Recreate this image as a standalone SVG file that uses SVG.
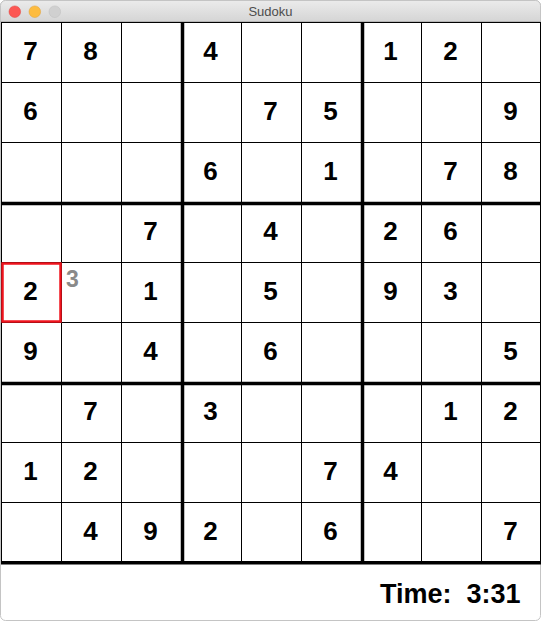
<svg xmlns="http://www.w3.org/2000/svg" width="541" height="623" viewBox="0 0 541 623">
<defs>
<linearGradient id="tb" x1="0" y1="0" x2="0" y2="1">
<stop offset="0" stop-color="#ebebeb"/>
<stop offset="1" stop-color="#d5d5d5"/>
</linearGradient>
<style>
.d{font-family:"Liberation Sans",Arial,sans-serif;font-weight:bold;font-size:26px;fill:#000;text-anchor:middle}
.thin{stroke:#000;stroke-width:1}
.thick{stroke:#000;stroke-width:3.5}
</style>
</defs>
<rect x="0" y="0" width="541" height="623" fill="#fff"/>
<g id="window">
<rect x="0.5" y="0.5" width="540" height="620" rx="5" fill="#fff" stroke="#c4c4c4"/>
<path d="M0.5,21.5 V5.5 a5,5 0 0 1 5,-5 H535.5 a5,5 0 0 1 5,5 V21.5 Z" fill="url(#tb)" stroke="#c4c4c4"/>
<line x1="0" y1="21.5" x2="541" y2="21.5" stroke="#b5b5b5"/>
<circle cx="14.8" cy="11.7" r="5.8" fill="#fc5753" stroke="#df3e3a" stroke-width="0.5"/>
<circle cx="34.8" cy="11.7" r="5.8" fill="#fdbc40" stroke="#de9f34" stroke-width="0.5"/>
<circle cx="54.8" cy="11.7" r="5.8" fill="#d0d0d0" stroke="#bdbdbd" stroke-width="0.5"/>
<text x="270.5" y="15.5" font-family="'Liberation Sans',Arial,sans-serif" font-size="13" fill="#4d4d4d" text-anchor="middle">Sudoku</text>
</g>
<g id="grid">
<line class="thin" x1="1.5" y1="22" x2="1.5" y2="564"/>
<line class="thin" x1="61.5" y1="22" x2="61.5" y2="564"/>
<line class="thin" x1="121.5" y1="22" x2="121.5" y2="564"/>
<line class="thin" x1="241.5" y1="22" x2="241.5" y2="564"/>
<line class="thin" x1="301.5" y1="22" x2="301.5" y2="564"/>
<line class="thin" x1="421.5" y1="22" x2="421.5" y2="564"/>
<line class="thin" x1="481.5" y1="22" x2="481.5" y2="564"/>
<line class="thin" x1="540.5" y1="22" x2="540.5" y2="564"/>
<line class="thin" x1="1" y1="22.5" x2="541" y2="22.5"/>
<line class="thin" x1="1" y1="82.5" x2="541" y2="82.5"/>
<line class="thin" x1="1" y1="142.5" x2="541" y2="142.5"/>
<line class="thin" x1="1" y1="262.5" x2="541" y2="262.5"/>
<line class="thin" x1="1" y1="322.5" x2="541" y2="322.5"/>
<line class="thin" x1="1" y1="442.5" x2="541" y2="442.5"/>
<line class="thin" x1="1" y1="502.5" x2="541" y2="502.5"/>
<line class="thick" x1="182.5" y1="22" x2="182.5" y2="564"/>
<line class="thick" x1="362.5" y1="22" x2="362.5" y2="564"/>
<line class="thick" x1="1" y1="203.5" x2="541" y2="203.5"/>
<line class="thick" x1="1" y1="383.5" x2="541" y2="383.5"/>
<line class="thick" x1="1" y1="562.7" x2="541" y2="562.7"/>
</g>
<g id="selection">
<rect x="2.5" y="263.5" width="58" height="58" fill="none" stroke="#f0141e" stroke-width="2.5"/>
</g>
<g id="r0">
<g id="c00"><text class="d" x="30.5" y="59.8">7</text></g>
<g id="c01"><text class="d" x="90.5" y="59.8">8</text></g>
<g id="c03"><text class="d" x="210.5" y="59.8">4</text></g>
<g id="c06"><text class="d" x="390.5" y="59.8">1</text></g>
<g id="c07"><text class="d" x="450.5" y="59.8">2</text></g>
</g>
<g id="r1">
<g id="c10"><text class="d" x="30.5" y="119.8">6</text></g>
<g id="c14"><text class="d" x="270.5" y="119.8">7</text></g>
<g id="c15"><text class="d" x="330.5" y="119.8">5</text></g>
<g id="c18"><text class="d" x="510.5" y="119.8">9</text></g>
</g>
<g id="r2">
<g id="c23"><text class="d" x="210.5" y="179.8">6</text></g>
<g id="c25"><text class="d" x="330.5" y="179.8">1</text></g>
<g id="c27"><text class="d" x="450.5" y="179.8">7</text></g>
<g id="c28"><text class="d" x="510.5" y="179.8">8</text></g>
</g>
<g id="r3">
<g id="c32"><text class="d" x="150.5" y="239.8">7</text></g>
<g id="c34"><text class="d" x="270.5" y="239.8">4</text></g>
<g id="c36"><text class="d" x="390.5" y="239.8">2</text></g>
<g id="c37"><text class="d" x="450.5" y="239.8">6</text></g>
</g>
<g id="r4">
<g id="c40"><text class="d" x="30.5" y="299.8">2</text></g>
<g id="c41"><text x="66" y="287" font-family="'Liberation Sans',Arial,sans-serif" font-weight="bold" font-size="23" fill="#8a8a8a">3</text></g>
<g id="c42"><text class="d" x="150.5" y="299.8">1</text></g>
<g id="c44"><text class="d" x="270.5" y="299.8">5</text></g>
<g id="c46"><text class="d" x="390.5" y="299.8">9</text></g>
<g id="c47"><text class="d" x="450.5" y="299.8">3</text></g>
</g>
<g id="r5">
<g id="c50"><text class="d" x="30.5" y="359.8">9</text></g>
<g id="c52"><text class="d" x="150.5" y="359.8">4</text></g>
<g id="c54"><text class="d" x="270.5" y="359.8">6</text></g>
<g id="c58"><text class="d" x="510.5" y="359.8">5</text></g>
</g>
<g id="r6">
<g id="c61"><text class="d" x="90.5" y="419.8">7</text></g>
<g id="c63"><text class="d" x="210.5" y="419.8">3</text></g>
<g id="c67"><text class="d" x="450.5" y="419.8">1</text></g>
<g id="c68"><text class="d" x="510.5" y="419.8">2</text></g>
</g>
<g id="r7">
<g id="c70"><text class="d" x="30.5" y="479.8">1</text></g>
<g id="c71"><text class="d" x="90.5" y="479.8">2</text></g>
<g id="c75"><text class="d" x="330.5" y="479.8">7</text></g>
<g id="c76"><text class="d" x="390.5" y="479.8">4</text></g>
</g>
<g id="r8">
<g id="c81"><text class="d" x="90.5" y="539.8">4</text></g>
<g id="c82"><text class="d" x="150.5" y="539.8">9</text></g>
<g id="c83"><text class="d" x="210.5" y="539.8">2</text></g>
<g id="c85"><text class="d" x="330.5" y="539.8">6</text></g>
<g id="c88"><text class="d" x="510.5" y="539.8">7</text></g>
</g>
<g id="timer">
<text x="520.5" y="603.3" font-family="'Liberation Sans',Arial,sans-serif" font-weight="bold" font-size="27" fill="#000" text-anchor="end" xml:space="preserve" style="white-space:pre">Time:  3:31</text>
</g>
</svg>
